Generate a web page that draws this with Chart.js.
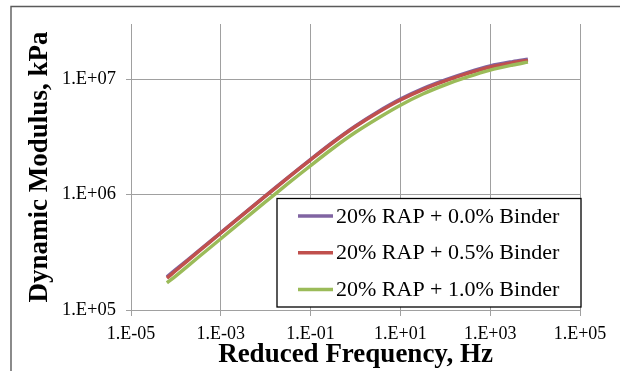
<!DOCTYPE html>
<html>
<head>
<meta charset="utf-8">
<title>Dynamic Modulus Master Curves</title>
<script src="https://cdn.jsdelivr.net/npm/chart.js@4.4.1/dist/chart.umd.min.js"></script>
<style>
  body { margin: 0; background: #fff; }
  #wrap { width: 620px; height: 371px; }
</style>
</head>
<body>
<div id="wrap"><canvas id="modulus_chart" width="620" height="371"></canvas></div>
<script>
// REDUCED FREQUENCY, Hz
const frequency = [6.31e-5, 1e-4, 3.16e-4, 1e-3, 3.16e-3, 1e-2, 3.16e-2, 0.1, 0.316, 1, 3.16, 10, 31.6, 100, 316, 1000, 3162, 6918];

// DYNAMIC MODULUS, kPa
const binder_00 = [193600, 224400, 324300, 468800, 677600, 979500, 1409000, 2018000, 2858000, 3936000, 5224000, 6714000, 8279000, 9840000, 11430000, 13000000, 14160000, 14830000];
const binder_05 = [189000, 219800, 319900, 464500, 673000, 972700, 1400000, 2000000, 2825000, 3882000, 5140000, 6592000, 8110000, 9640000, 11190000, 12740000, 13870000, 14520000];
const binder_10 = [171400, 197700, 286400, 414000, 600000, 867000, 1247000, 1782000, 2518000, 3459000, 4581000, 5943000, 7430000, 8933000, 10450000, 11970000, 13240000, 14030000];

const series_labels = ['20% RAP + 0.0% Binder', '20% RAP + 0.5% Binder', '20% RAP + 1.0% Binder'];
const series_colors = ['#8064A2', '#C0504D', '#9BBB59'];

// AXIS TICKS
const x_ticks = [1e-5, 1e-3, 1e-1, 1e1, 1e3, 1e5];
const x_tick_labels = ['1.E-05', '1.E-03', '1.E-01', '1.E+01', '1.E+03', '1.E+05'];
const y_ticks = [1e5, 1e6, 1e7];
const y_tick_labels = ['1.E+05', '1.E+06', '1.E+07'];

const serif = "'Liberation Serif', 'Times New Roman', serif";
const grid_color = '#a0a0a0';

function toPoints(values){
	return frequency.map((f, i) => ({ x: f, y: values[i] }));
}

// outer chart frame (only top and left edges show)
const frame = {
	id: 'frame',
	afterDraw(chart){
		const ctx = chart.ctx;
		ctx.save();
		ctx.strokeStyle = '#5a5a5a';
		ctx.lineWidth = 1.4;
		ctx.lineCap = 'butt';
		ctx.beginPath();
		ctx.moveTo(11, chart.height + 2);
		ctx.lineTo(11, 6.5);
		ctx.lineTo(chart.width + 2, 6.5);
		ctx.stroke();
		ctx.restore();
	}
};

// boxed legend sitting in the lower right of the plot
const boxLegend = {
	id: 'boxLegend',
	afterDraw(chart, args, opts){
		const ctx = chart.ctx;
		ctx.save();
		ctx.fillStyle = '#fff';
		ctx.fillRect(opts.left, opts.top, opts.width, opts.height);
		ctx.strokeStyle = '#000';
		ctx.lineWidth = 1.3;
		ctx.strokeRect(opts.left, opts.top, opts.width, opts.height);

		ctx.font = '22px ' + serif;
		ctx.textBaseline = 'middle';
		ctx.textAlign = 'left';
		chart.data.datasets.forEach((ds, i) => {
			const y = opts.top + opts.firstRow + i * opts.rowGap;
			ctx.strokeStyle = ds.borderColor;
			ctx.lineWidth = 3.5;
			ctx.beginPath();
			ctx.moveTo(opts.left + 21, y);
			ctx.lineTo(opts.left + 56, y);
			ctx.stroke();
			ctx.fillStyle = '#000';
			ctx.fillText(ds.label, opts.left + 59, y + 1);
		});
		ctx.restore();
	}
};

const ctx = document.getElementById('modulus_chart').getContext('2d');

const datasets = [binder_00, binder_05, binder_10].map((values, i) => ({
	label: series_labels[i],
	data: toPoints(values),
	borderColor: series_colors[i],
	backgroundColor: series_colors[i],
	borderWidth: 3.5,
	pointRadius: 0,
	tension: 0.3,
	fill: false,
	order: 3 - i
}));

new Chart(ctx, {
	type: 'line',
	data: { datasets: datasets },
	plugins: [frame, boxLegend],
	options: {
		responsive: false,
		animation: false,
		layout: { padding: { top: 24, right: 40, left: 0, bottom: 0 } },
		plugins: {
			legend: { display: false },
			tooltip: { enabled: false },
			boxLegend: { left: 277, top: 198.5, width: 304, height: 108.5, firstRow: 17.5, rowGap: 36.7 }
		},
		scales: {
			x: {
				type: 'logarithmic',
				min: 1e-5,
				max: 1e5,
				afterBuildTicks: scale => { scale.ticks = x_ticks.map(v => ({ value: v })); },
				afterFit: scale => { scale.height = 61; },
				grid: { color: grid_color, lineWidth: 1, tickLength: 6, drawTicks: true },
				border: { color: grid_color, width: 1 },
				ticks: {
					autoSkip: false,
					maxRotation: 0,
					padding: 7,
					color: '#000',
					font: { family: serif, size: 18 },
					callback: (value, index) => x_tick_labels[index]
				},
				title: {
					display: true,
					text: 'Reduced Frequency, Hz',
					color: '#000',
					font: { family: serif, size: 27, weight: 'bold' },
					padding: { top: 0, bottom: 0 }
				}
			},
			y: {
				type: 'logarithmic',
				min: 1e5,
				max: 3e7,
				afterBuildTicks: scale => { scale.ticks = y_ticks.map(v => ({ value: v })); },
				afterFit: scale => { scale.width = 131; },
				grid: { color: grid_color, lineWidth: 1, tickLength: 5, drawTicks: true },
				border: { color: grid_color, width: 1 },
				ticks: {
					autoSkip: false,
					padding: 10,
					color: '#000',
					font: { family: serif, size: 18.5 },
					callback: (value, index) => y_tick_labels[index]
				},
				title: {
					display: true,
					text: 'Dynamic Modulus, kPa',
					color: '#000',
					font: { family: serif, size: 27, weight: 'bold' },
					padding: { top: 24, bottom: 0 }
				}
			}
		}
	}
});
</script>
</body>
</html>
